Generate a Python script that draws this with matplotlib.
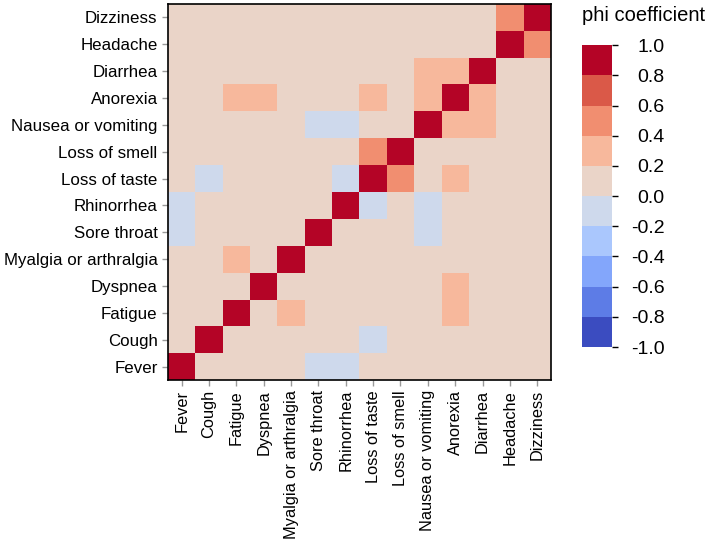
import numpy as np
import matplotlib.pyplot as plt
from matplotlib.colors import BoundaryNorm

plt.rcParams['font.family'] = ['Liberation Sans', 'DejaVu Sans']

# Симптомы (ось x слева направо, ось y снизу вверх)
symptoms = ['Fever', 'Cough', 'Fatigue', 'Dyspnea', 'Myalgia or arthralgia',
            'Sore throat', 'Rhinorrhea', 'Loss of taste', 'Loss of smell',
            'Nausea or vomiting', 'Anorexia', 'Diarrhea', 'Headache', 'Dizziness']

# Оценённые значения phi по парам (остальные ~0.05)
background = 0.05
pairs = {
    ('Fever', 'Sore throat'): -0.08,
    ('Fever', 'Rhinorrhea'): -0.08,
    ('Cough', 'Loss of taste'): -0.07,
    ('Fatigue', 'Myalgia or arthralgia'): 0.27,
    ('Fatigue', 'Anorexia'): 0.26,
    ('Dyspnea', 'Anorexia'): 0.25,
    ('Sore throat', 'Nausea or vomiting'): -0.06,
    ('Rhinorrhea', 'Loss of taste'): -0.07,
    ('Rhinorrhea', 'Nausea or vomiting'): -0.06,
    ('Loss of taste', 'Loss of smell'): 0.52,
    ('Loss of taste', 'Anorexia'): 0.24,
    ('Nausea or vomiting', 'Anorexia'): 0.31,
    ('Nausea or vomiting', 'Diarrhea'): 0.28,
    ('Anorexia', 'Diarrhea'): 0.29,
    ('Headache', 'Dizziness'): 0.47,
}

n = len(symptoms)
phi = np.full((n, n), background)
np.fill_diagonal(phi, 1.0)
for (a, b), v in pairs.items():
    i, j = symptoms.index(a), symptoms.index(b)
    phi[i, j] = v
    phi[j, i] = v

levels = np.linspace(-1, 1, 11)
cmap = plt.get_cmap('coolwarm', 10)
norm = BoundaryNorm(levels, cmap.N)

fig = plt.figure(figsize=(7.09, 5.44), dpi=100)
ax = fig.add_axes([0.237, 0.301, 0.540, 0.692])
cax = fig.add_axes([0.821, 0.362, 0.042, 0.555])

mesh = ax.pcolormesh(np.arange(n + 1), np.arange(n + 1), phi, cmap=cmap, norm=norm)
ax.set_xlim(0, n)
ax.set_ylim(0, n)
ax.set_xticks(np.arange(n) + 0.5)
ax.set_yticks(np.arange(n) + 0.5)
ax.set_xticklabels(symptoms, rotation=90, fontsize=11.8)
ax.set_yticklabels(symptoms, fontsize=12.2)
ax.tick_params(color='#999999', length=4, width=1)
ax.tick_params(axis='x', pad=3)
for s in ax.spines.values():
    s.set_linewidth(1.2)

cb = fig.colorbar(mesh, cax=cax, ticks=levels)
cb.outline.set_visible(False)
cb.ax.set_yticklabels(['%.1f' % v for v in levels], fontsize=14, ha='right')
cb.ax.tick_params(length=4, width=1, pad=34)
for t, v in zip(cb.ax.yaxis.get_major_ticks(), levels):
    t.tick2line.set_color(cmap(norm(min(v, 0.99))))
fig.text(0.907, 0.972, 'phi coefficient', fontsize=14.5, ha='center', va='center')

fig.savefig('out.png', dpi=100)
